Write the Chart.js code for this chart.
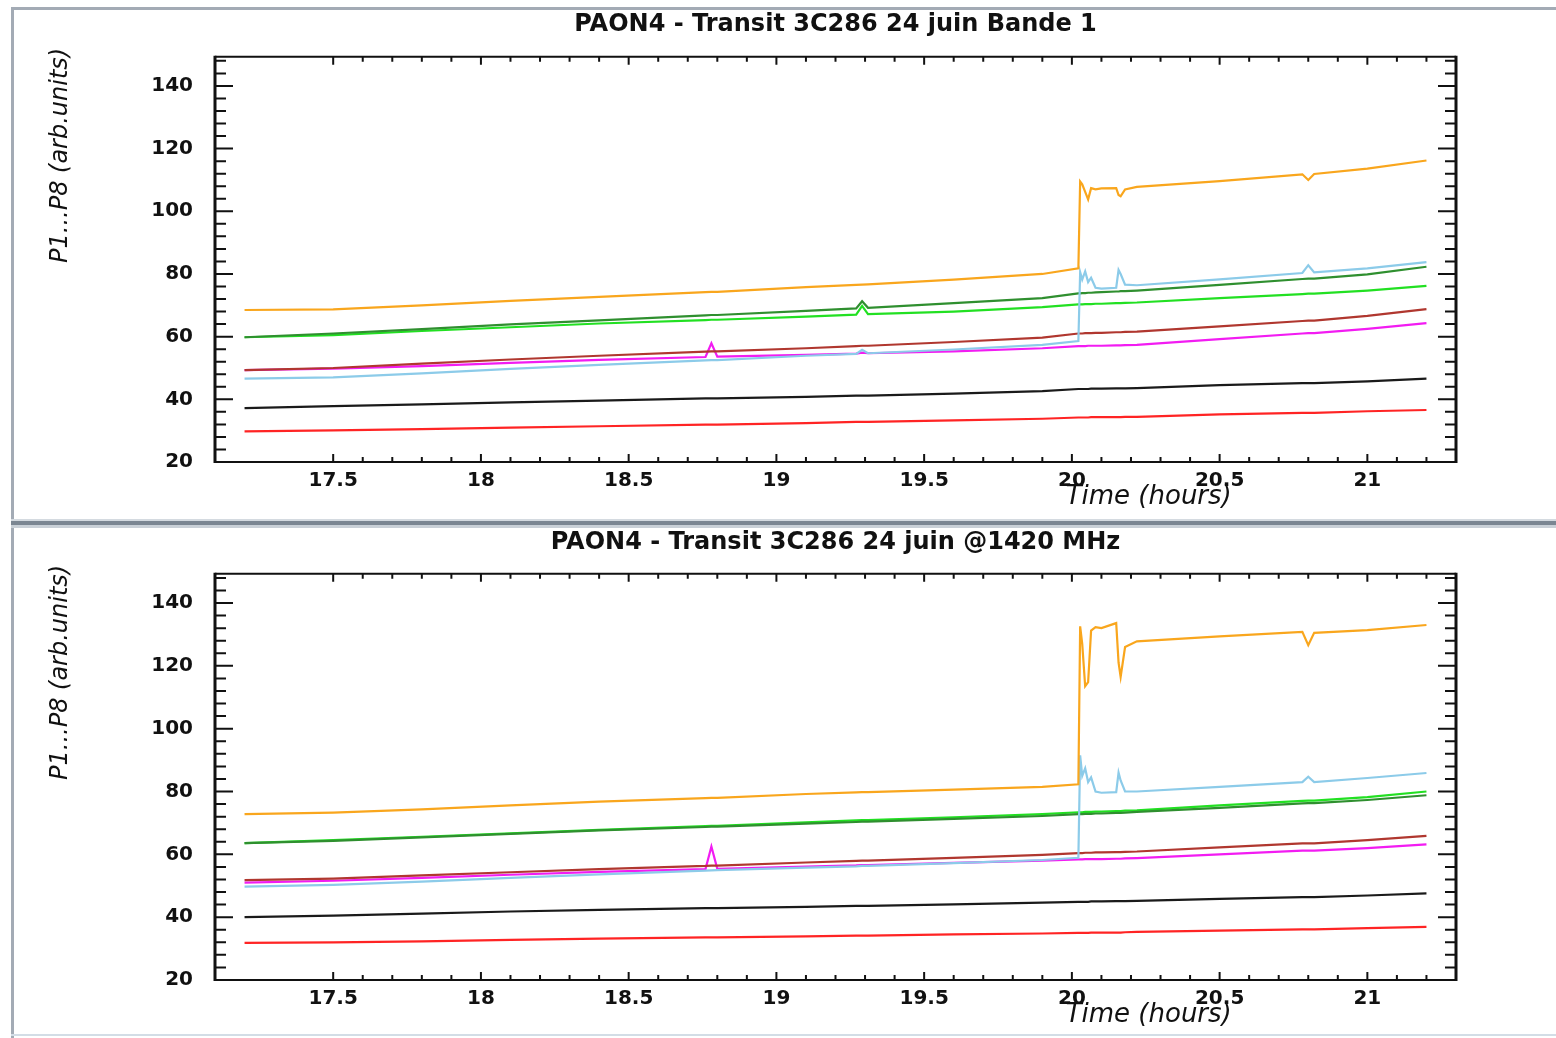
<!DOCTYPE html>
<html>
<head>
<meta charset="utf-8">
<title>PAON4 - Transit 3C286 24 juin</title>
<script src="https://cdn.jsdelivr.net/npm/chart.js@4.4.1/dist/chart.umd.min.js"></script>
<style>
  html, body { margin: 0; padding: 0; background: #fff; }
  body { width: 1556px; height: 1038px; position: relative; overflow: hidden; }
  canvas { position: absolute; left: 0; }
  #topChart { top: 0; }
  #bottomChart { top: 528px; }
  .frame { position: absolute; }
  .top-line { left: 11px; top: 7px; width: 1545px; height: 3px; background: #a3abb5; }
  .left-line { left: 11px; top: 7px; width: 3px; height: 1031px; background: #a3abb5; }
  .sep { left: 11px; top: 519px; width: 1545px; height: 9px;
         background: linear-gradient(#d4dae0 0, #d4dae0 2px, #7b8692 2px, #7b8692 6px, #c9d0d7 6px); }
  .bottom-line { left: 11px; top: 1034px; width: 1545px; height: 2px; background: #d3dde6; }
</style>
</head>
<body>
<canvas id="topChart" width="1556" height="518"></canvas>
<canvas id="bottomChart" width="1556" height="510"></canvas>
<div class="frame top-line"></div>
<div class="frame left-line"></div>
<div class="frame sep"></div>
<div class="frame bottom-line"></div>

<script>
// time samples (hours), shared by every trace
const times = [17.2, 17.5, 17.8, 18.1, 18.4, 18.76, 18.78, 18.8, 19.1, 19.27, 19.29, 19.31, 19.6, 19.9,
    20.022, 20.028, 20.035, 20.045, 20.055, 20.065, 20.08, 20.1, 20.15, 20.158, 20.165, 20.18, 20.22,
    20.5, 20.78, 20.8, 20.82, 21.0, 21.2];

const xTicks = [17.5, 18, 18.5, 19, 19.5, 20, 20.5, 21];
const yTicks = [20, 40, 60, 80, 100, 120, 140];

// Bande 1
const orangeA = [68.5, 68.7, 70.0, 71.4, 72.7, 74.2, 74.3, 74.3, 75.8, 76.5, 76.6, 76.7, 78.2, 80.0, 81.8, 109.5, 108.6, 106.2, 103.8, 107.4, 107.0, 107.3, 107.4, 105.2, 104.8, 107.0, 107.8, 109.6, 111.8, 110.0, 111.9, 113.6, 116.2];
const skyA = [46.6, 47.0, 48.3, 49.7, 51.0, 52.4, 52.5, 52.5, 53.9, 54.5, 55.8, 54.7, 55.9, 57.4, 58.6, 80.6, 78.2, 80.8, 77.4, 78.8, 75.6, 75.3, 75.6, 81.3, 80.0, 76.6, 76.4, 78.3, 80.3, 82.8, 80.5, 81.8, 83.8];
const darkGreenA = [59.8, 61.0, 62.4, 63.9, 65.2, 66.8, 66.9, 66.9, 68.2, 69.0, 71.3, 69.2, 70.7, 72.3, 73.8, 73.8, 73.9, 73.9, 74.0, 74.0, 74.1, 74.2, 74.4, 74.4, 74.5, 74.5, 74.7, 76.5, 78.4, 78.5, 78.5, 79.9, 82.3];
const greenA = [59.8, 60.5, 61.8, 63.0, 64.2, 65.3, 65.4, 65.4, 66.4, 67.0, 69.8, 67.2, 68.0, 69.4, 70.3, 70.3, 70.3, 70.4, 70.4, 70.4, 70.5, 70.5, 70.7, 70.7, 70.7, 70.8, 70.9, 72.3, 73.6, 73.7, 73.7, 74.7, 76.2];
const brownA = [49.3, 50.0, 51.4, 52.7, 53.9, 55.2, 55.3, 55.3, 56.3, 57.0, 57.1, 57.1, 58.3, 59.7, 61.0, 61.0, 61.0, 61.1, 61.1, 61.1, 61.2, 61.2, 61.4, 61.4, 61.4, 61.5, 61.6, 63.3, 65.0, 65.1, 65.1, 66.6, 68.8];
const magentaA = [49.3, 49.8, 50.6, 51.6, 52.6, 53.5, 57.9, 53.6, 54.2, 54.6, 54.9, 54.7, 55.3, 56.3, 57.0, 57.0, 57.0, 57.0, 57.1, 57.1, 57.1, 57.1, 57.2, 57.2, 57.2, 57.3, 57.4, 59.2, 61.0, 61.1, 61.1, 62.5, 64.3];
const blackA = [37.2, 37.8, 38.4, 39.0, 39.6, 40.3, 40.3, 40.3, 40.8, 41.2, 41.2, 41.2, 41.8, 42.6, 43.3, 43.3, 43.3, 43.3, 43.3, 43.4, 43.4, 43.4, 43.5, 43.5, 43.5, 43.5, 43.6, 44.5, 45.2, 45.2, 45.2, 45.7, 46.6];
const redA = [29.8, 30.1, 30.5, 31.0, 31.4, 31.9, 31.9, 31.9, 32.4, 32.8, 32.8, 32.8, 33.3, 33.8, 34.2, 34.2, 34.2, 34.2, 34.2, 34.3, 34.3, 34.3, 34.3, 34.3, 34.3, 34.4, 34.4, 35.2, 35.7, 35.7, 35.7, 36.2, 36.6];

// @1420 MHz
const orangeB = [72.8, 73.3, 74.3, 75.6, 76.8, 77.9, 78.0, 78.0, 79.2, 79.7, 79.8, 79.8, 80.6, 81.5, 82.3, 132.6, 127.0, 113.5, 114.8, 131.2, 132.3, 132.0, 133.6, 121.0, 116.5, 126.0, 127.8, 129.4, 130.8, 126.6, 130.5, 131.4, 133.0];
const skyB = [49.7, 50.3, 51.3, 52.5, 53.6, 54.8, 54.9, 55.0, 55.8, 56.2, 56.3, 56.3, 57.2, 58.2, 58.9, 91.5, 85.0, 87.4, 83.0, 84.5, 80.0, 79.6, 79.8, 86.0, 83.5, 80.0, 80.0, 81.5, 83.0, 84.7, 83.0, 84.3, 85.9];
const darkGreenB = [63.6, 64.3, 65.4, 66.5, 67.6, 68.7, 68.8, 68.8, 69.8, 70.3, 70.4, 70.4, 71.3, 72.2, 72.8, 72.8, 72.8, 72.9, 72.9, 72.9, 73.0, 73.0, 73.2, 73.2, 73.2, 73.3, 73.5, 74.8, 76.2, 76.3, 76.3, 77.3, 78.8];
const greenB = [63.6, 64.5, 65.6, 66.7, 67.8, 69.0, 69.1, 69.1, 70.2, 70.8, 70.9, 70.9, 71.8, 72.8, 73.4, 73.4, 73.4, 73.5, 73.5, 73.5, 73.6, 73.6, 73.8, 73.8, 73.8, 73.9, 74.0, 75.6, 77.0, 77.1, 77.1, 78.2, 80.0];
const brownB = [51.8, 52.3, 53.3, 54.3, 55.3, 56.3, 56.4, 56.4, 57.4, 57.9, 58.0, 58.0, 58.9, 59.8, 60.4, 60.4, 60.4, 60.5, 60.5, 60.5, 60.6, 60.6, 60.7, 60.7, 60.7, 60.8, 60.9, 62.2, 63.5, 63.5, 63.5, 64.5, 65.9];
const magentaB = [51.0, 51.6, 52.5, 53.5, 54.4, 55.3, 62.5, 55.4, 56.1, 56.5, 56.6, 56.6, 57.3, 58.0, 58.4, 58.4, 58.4, 58.5, 58.5, 58.5, 58.5, 58.5, 58.6, 58.6, 58.6, 58.7, 58.8, 60.0, 61.2, 61.2, 61.2, 62.0, 63.2];
const blackB = [40.0, 40.5, 41.1, 41.8, 42.3, 42.9, 42.9, 42.9, 43.3, 43.6, 43.6, 43.6, 44.1, 44.6, 44.9, 44.9, 44.9, 44.9, 44.9, 45.0, 45.0, 45.0, 45.1, 45.1, 45.1, 45.1, 45.2, 45.8, 46.4, 46.4, 46.4, 46.9, 47.6];
const redB = [31.8, 32.0, 32.3, 32.8, 33.2, 33.6, 33.6, 33.6, 33.9, 34.1, 34.1, 34.1, 34.5, 34.8, 35.0, 35.0, 35.0, 35.0, 35.0, 35.1, 35.1, 35.1, 35.1, 35.1, 35.1, 35.2, 35.3, 35.7, 36.1, 36.1, 36.1, 36.5, 36.9];

const lineColors = ['#f9a61d', '#8ccbe9', '#2f8f2f', '#22e022', '#b0372f', '#f21cf2', '#1a1a1a', '#ff2424'];

Chart.defaults.font.family = "'DejaVu Sans', sans-serif";
Chart.defaults.color = '#111';

// IDL style box with inward ticks + the axis titles
const idlAxes = {
    id: 'idlAxes',
    afterDatasetsDraw(chart) {
        const { ctx, chartArea: a, scales: { x, y } } = chart;
        ctx.save();
        ctx.strokeStyle = '#111';

        ctx.lineWidth = 2;
        ctx.beginPath();
        ctx.moveTo(a.left, a.top); ctx.lineTo(a.right, a.top);
        ctx.moveTo(a.left, a.bottom); ctx.lineTo(a.right, a.bottom);
        for (let i = 175; i <= 212; i++) {
            const px = x.getPixelForValue(i / 10);
            const len = i % 5 === 0 ? 8 : 5;
            ctx.moveTo(px, a.bottom); ctx.lineTo(px, a.bottom - len);
            ctx.moveTo(px, a.top); ctx.lineTo(px, a.top + len);
        }
        for (let v = 20; v <= 148; v += 4) {
            const py = y.getPixelForValue(v);
            const len = v % 20 === 0 ? 18 : 11;
            ctx.moveTo(a.left, py); ctx.lineTo(a.left + len, py);
            ctx.moveTo(a.right, py); ctx.lineTo(a.right - len, py);
        }
        ctx.stroke();

        ctx.lineWidth = 3;
        ctx.beginPath();
        ctx.moveTo(a.left, a.top - 1); ctx.lineTo(a.left, a.bottom + 1);
        ctx.moveTo(a.right, a.top - 1); ctx.lineTo(a.right, a.bottom + 1);
        ctx.stroke();

        ctx.fillStyle = '#111';
        ctx.font = "italic 26px 'DejaVu Sans', sans-serif";
        ctx.textAlign = 'center';
        ctx.textBaseline = 'middle';
        ctx.fillText('Time (hours)', x.getPixelForValue(20.26), a.bottom + 35);

        // y title sits a little above the plot top, like the IDL original
        ctx.font = "italic 24px 'DejaVu Sans', sans-serif";
        ctx.translate(61, a.top - 9);
        ctx.rotate(-Math.PI / 2);
        ctx.textAlign = 'right';
        ctx.fillText('P1...P8 (arb.units)', 0, 0);
        ctx.restore();
    }
};

const makePanel = (canvasId, titleText, series, titlePad, padBottom) => {
    var ctx = document.getElementById(canvasId).getContext('2d');
    return new Chart(ctx, {
        type: 'line',
        data: {
            datasets: series.map((vals, k) => ({
                data: vals.map((v, i) => ({ x: times[i], y: v })),
                borderColor: lineColors[k],
                borderWidth: 2.2,
                pointRadius: 0,
                tension: 0,
                fill: false
            }))
        },
        options: {
            responsive: false,
            animation: false,
            layout: { padding: { left: 20, right: 100, top: 0, bottom: padBottom } },
            plugins: {
                legend: { display: false },
                tooltip: { enabled: false },
                title: {
                    display: true,
                    text: titleText,
                    fullSize: false,
                    color: '#111',
                    font: { size: 24, weight: 'bold', lineHeight: 1.2 },
                    padding: titlePad
                }
            },
            scales: {
                x: {
                    type: 'linear',
                    min: 17.1,
                    max: 21.3,
                    grid: { display: false, drawTicks: false },
                    border: { display: false },
                    afterBuildTicks: (s) => { s.ticks = xTicks.map(v => ({ value: v })); },
                    afterFit: (s) => { s.height = 40; },
                    ticks: {
                        padding: 7,
                        maxRotation: 0,
                        autoSkip: false,
                        color: '#111',
                        font: { size: 20, weight: 'bold' },
                        callback: (v) => String(v)
                    }
                },
                y: {
                    type: 'linear',
                    min: 20,
                    max: 149.3,
                    grid: { display: false, drawTicks: false },
                    border: { display: false },
                    afterBuildTicks: (s) => { s.ticks = yTicks.map(v => ({ value: v })); },
                    afterFit: (s) => { s.width = 195; },
                    ticks: {
                        padding: 22,
                        color: '#111',
                        font: { size: 20, weight: 'bold' },
                        callback: (v) => String(v)
                    }
                }
            }
        },
        plugins: [idlAxes]
    });
};

makePanel('topChart', 'PAON4 - Transit 3C286 24 juin Bande 1',
    [orangeA, skyA, darkGreenA, greenA, brownA, magentaA, blackA, redA],
    { top: 10, bottom: 18 }, 16);

makePanel('bottomChart', 'PAON4 - Transit 3C286 24 juin @1420 MHz',
    [orangeB, skyB, darkGreenB, greenB, brownB, magentaB, blackB, redB],
    { top: 0, bottom: 17 }, 18);
</script>
</body>
</html>
